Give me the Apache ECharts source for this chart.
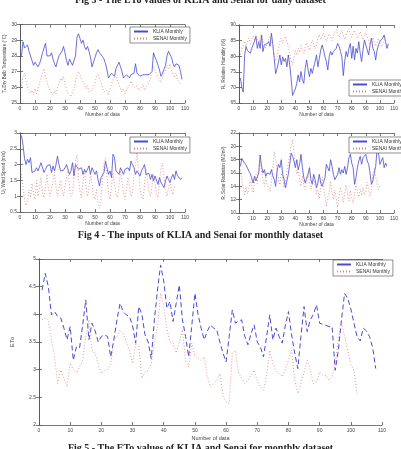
<!DOCTYPE html>
<html>
<head>
<meta charset="utf-8">
<script src="https://cdn.jsdelivr.net/npm/echarts@6/dist/echarts.min.js"></script>
<style>
  html, body { margin: 0; padding: 0; background: #fff; }
  #chart { width: 401px; height: 449px; }
</style>
</head>
<body>
<div id="chart"></div>
<script>
// monthly values, index 0 = data point 1
const tempKlia = [28.0, 28.9, 28.5, 28.6, 28.7, 28.3, 28.0, 27.7, 27.4, 27.6, 27.5, 27.3, 27.5, 27.8, 28.2, 28.5, 28.8, 28.0, 27.9, 28.0,
  28.2, 27.8, 27.5, 27.3, 27.7, 28.0, 28.1, 28.3, 28.6, 28.2, 27.7, 27.4, 27.8, 27.6, 27.4, 27.7, 28.0, 29.2, 29.4, 29.1,
  28.8, 29.0, 28.6, 28.4, 28.6, 28.3, 27.9, 27.3, 27.6, 27.9, 28.2, 28.4, 28.2, 28.1, 27.95, 27.8, 27.5, 27.1, 26.6, 26.5,
  26.9, 26.8, 26.7, 27.2, 27.4, 27.6, 27.3, 27.0, 26.6, 26.7, 26.8, 26.7, 26.6, 26.8, 26.8, 26.9, 27.5, 26.9, 26.8, 26.7,
  26.8, 26.8, 26.9, 26.8, 26.7, 26.8, 26.8, 27.0, 28.2, 27.9, 27.7, 27.4, 27.1, 26.7, 26.9, 27.0, 27.4, 28.0, 28.3, 28.4,
  27.9, 27.5, 27.3, 27.5, 27.6, 27.4, 27.0, 26.5];
const tempSenai = [26.1, 26.7, 26.9, 26.4, 26.0, 25.8, 25.6, 25.8, 25.5, 25.9, 25.6, 25.9, 26.3, 26.6, 26.9, 27.2, 26.7, 26.4, 26.0, 25.8,
  25.7, 25.5, 25.8, 25.6, 26.0, 26.2, 26.6, 26.4, 26.7, 26.2, 25.9, 25.6, 25.5, 25.4, 25.7, 25.9, 26.4, 26.8, 27.0, 26.8,
  26.5, 26.6, 26.2, 25.9, 26.1, 25.7, 25.6, 25.8, 26.0, 26.3, 26.7, 26.9, 26.5, 26.3, 26.0, 25.7, 25.6, 25.8, 25.5, 25.9,
  26.2, 26.5, 26.6, 26.8, 26.4, 26.2, 25.9, 25.7, 25.9, 25.6, 25.8, 26.0, 26.2, 26.4, 26.3, 26.0, 25.9, 26.1, 25.8, 25.9,
  26.0, 26.2, 25.8, 26.0, 25.9, 26.3, 26.6, 27.0, 27.3, 27.1, 26.8, 26.9, 26.5, 26.3, 26.6, 26.9, 27.1, 27.4, 27.2, 27.5,
  27.1, 26.8, 26.6, 26.9, 26.5, 26.4, 26.2];

const rhKlia = [73.0, 70.0, 68.5, 80.4, 83.1, 81.8, 81.2, 80.9, 82.5, 83.6, 84.8, 86.3, 82.5, 84.7, 82.5, 86.8, 81.5, 83.7, 83.2, 84.0,
  84.7, 83.2, 87.4, 83.7, 79.3, 74.4, 75.9, 78.0, 80.4, 77.2, 79.8, 78.3, 79.3, 76.6, 80.4, 77.2, 72.9, 67.4, 66.8, 69.5,
  71.3, 74.0, 71.8, 75.1, 72.4, 71.3, 76.1, 78.8, 75.6, 73.4, 76.1, 74.5, 76.5, 78.3, 80.4, 76.6, 79.3, 82.0, 83.6, 82.0,
  79.8, 78.3, 75.6, 79.8, 81.5, 80.4, 81.5, 82.0, 82.5, 84.1, 83.2, 81.5, 79.8, 73.8, 78.3, 81.5, 79.8, 82.5, 84.1, 79.3,
  83.2, 78.8, 82.5, 81.0, 84.7, 80.9, 78.3, 82.0, 85.2, 84.7, 82.0, 80.4, 83.7, 85.8, 82.5, 81.5, 78.8, 82.0, 83.6, 84.7,
  85.2, 85.8, 86.8, 84.7, 82.5, 84.0];
const rhSenai = [80.5, 82.0, 83.5, 84.8, 83.2, 84.5, 85.8, 84.0, 85.5, 86.5, 85.0, 86.8, 85.6, 84.2, 85.9, 87.0, 85.1, 84.0, 82.6, 83.8,
  85.4, 86.2, 84.9, 83.1, 80.2, 78.5, 79.8, 82.4, 84.6, 85.8, 84.2, 85.3, 86.4, 84.8, 83.0, 80.6, 78.4, 77.2, 79.5, 81.8,
  80.4, 82.6, 81.2, 83.5, 82.1, 80.8, 82.9, 84.3, 83.0, 81.9, 83.6, 85.1, 84.0, 82.4, 83.8, 85.6, 86.9, 85.3, 86.5, 87.4,
  86.0, 84.7, 85.9, 87.2, 86.3, 85.0, 86.6, 87.8, 88.5, 87.1, 86.0, 87.4, 88.2, 86.9, 85.4, 86.7, 88.0, 88.8, 87.3, 86.1,
  87.5, 88.3, 87.0, 85.8, 86.9, 87.9, 86.4, 85.2, 86.8, 87.6, 86.2, 84.8, 83.5, 84.9, 86.0, 84.6, 83.2, 84.4, 85.7, 84.3,
  83.0, 84.1, 85.3, 84.0, 83.4];

const windKlia = [2.92, 2.62, 2.2, 2.0, 2.17, 2.06, 2.22, 1.75, 1.78, 1.8, 1.9, 1.8, 1.75, 2.06, 2.11, 1.75, 1.85, 1.96, 1.9, 2.0,
  1.75, 1.96, 1.8, 2.0, 2.27, 2.0, 1.8, 1.75, 1.82, 1.9, 2.0, 2.06, 1.69, 1.8, 2.06, 1.64, 2.0, 1.96, 1.85, 1.8,
  1.9, 1.69, 1.85, 1.75, 1.85, 1.96, 1.69, 1.9, 1.8, 1.69, 1.8, 1.53, 1.32, 1.59, 1.65, 1.75, 2.11, 1.9, 1.69, 1.8,
  1.59, 2.33, 2.22, 1.8, 1.75, 1.69, 1.9, 1.85, 1.69, 1.85, 1.8, 1.9, 1.8, 2.11, 2.0, 1.9, 1.69, 1.8, 1.85, 1.64,
  1.8, 1.9, 2.0, 1.69, 1.75, 1.72, 1.53, 1.69, 1.48, 1.64, 1.59, 1.37, 1.59, 1.43, 1.35, 1.27, 1.48, 1.64, 1.53, 1.43,
  1.59, 1.69, 1.53, 1.8, 1.65, 1.59, 1.53, 1.59];
const windSenai = [1.7, 1.3, 0.9, 0.7, 0.85, 1.2, 0.95, 1.4, 1.1, 0.9, 1.5, 1.0, 1.25, 1.6, 1.1, 0.95, 1.35, 1.7, 1.2, 1.0,
  1.0, 1.45, 1.75, 1.3, 1.0, 1.05, 1.5, 1.2, 1.0, 0.95, 1.6, 1.85, 1.3, 1.0, 1.1, 1.55, 2.1, 2.3, 1.6, 1.15,
  0.95, 1.45, 1.8, 1.3, 1.0, 1.25, 1.7, 1.4, 1.0, 0.9, 1.2, 0.75, 0.62, 0.95, 1.5, 2.05, 2.2, 1.6, 1.1, 0.9,
  1.3, 1.75, 1.4, 1.05, 0.95, 1.35, 1.8, 1.45, 1.1, 0.9, 1.2, 1.6, 1.3, 1.0, 1.15, 1.7, 2.0, 2.4, 1.8, 1.3,
  1.0, 0.9, 1.35, 1.85, 1.5, 1.15, 1.0, 1.3, 1.7, 1.4, 1.05, 0.95, 1.45, 1.9, 2.05, 1.6, 1.2, 1.0, 1.25, 1.5,
  1.2, 1.05, 1.3];

const rsKlia = [17.0, 18.2, 17.8, 17.5, 17.2, 17.0, 16.3, 15.9, 15.3, 14.5, 15.5, 14.8, 15.4, 16.0, 18.7, 17.0, 16.0, 16.5, 15.5, 16.0,
  16.3, 15.8, 16.5, 15.6, 15.0, 14.0, 16.3, 17.3, 16.8, 18.0, 15.8, 15.0, 13.8, 14.8, 15.8, 17.3, 19.0, 18.5, 17.8, 16.8,
  18.0, 16.5, 17.3, 18.8, 16.8, 15.3, 14.5, 15.2, 15.8, 16.8, 15.0, 14.3, 15.8, 15.0, 13.8, 14.5, 15.8, 14.5, 14.0, 13.8,
  15.3, 17.3, 17.5, 16.3, 18.0, 17.0, 15.8, 15.0, 15.4, 15.8, 16.8, 15.8, 16.5, 16.0, 17.0, 15.8, 16.8, 18.3, 18.8, 17.5,
  16.8, 14.3, 15.3, 16.8, 17.8, 18.5, 17.3, 18.3, 18.6, 18.8, 17.8, 17.3, 16.0, 14.3, 14.8, 16.0, 17.0, 19.6, 19.0, 17.3,
  17.8, 18.3, 16.8, 17.5, 17.0];
const rsSenai = [16.5, 15.2, 13.8, 12.6, 14.0, 12.9, 13.5, 15.0, 14.2, 13.0, 14.6, 15.8, 14.4, 16.8, 18.0, 16.2, 15.0, 14.0, 15.5, 14.2,
  14.0, 13.2, 14.8, 16.6, 19.2, 18.0, 16.5, 15.0, 14.2, 16.0, 15.2, 13.8, 14.6, 16.2, 17.5, 18.6, 20.2, 21.0, 19.0, 17.2,
  15.8, 16.5, 15.0, 14.0, 15.6, 14.2, 13.5, 14.8, 16.0, 14.5, 13.6, 14.4, 15.2, 14.0, 12.8, 13.5, 12.2, 13.8, 15.4, 14.1,
  12.6, 11.0, 12.4, 13.2, 14.8, 13.0, 12.0, 13.4, 12.2, 10.8, 12.5, 13.9, 12.8, 11.6, 13.0, 14.2, 12.9, 11.8, 13.4, 12.2,
  11.4, 12.8, 14.4, 13.0, 12.4, 13.6, 12.6, 13.8, 12.7, 13.2, 14.6, 13.4, 12.5, 13.6, 15.8, 16.8, 15.3, 14.4, 13.5, 14.0];

const etoKlia = [4.44, 4.74, 4.5, 3.99, 4.05, 3.96, 3.93, 3.75, 3.54, 3.78, 3.17, 3.41, 3.39, 3.8, 4.26, 3.54, 3.84, 3.7, 3.5, 3.6,
  3.63, 3.6, 3.23, 3.54, 3.9, 4.2, 4.05, 3.99, 3.96, 3.8, 3.48, 4.14, 4.0, 3.63, 3.5, 3.2, 3.9, 4.44, 4.89, 4.6,
  4.11, 4.23, 3.87, 4.2, 4.53, 3.9, 3.6, 3.23, 3.8, 4.38, 4.0, 3.75, 3.54, 3.7, 3.81, 3.75, 3.72, 3.5, 3.3, 3.14,
  3.6, 4.08, 3.84, 3.88, 3.9, 3.6, 3.45, 3.65, 3.81, 3.5, 3.41, 3.23, 3.6, 3.99, 3.54, 3.75, 3.6, 3.48, 3.8, 4.05,
  3.63, 3.3, 3.02, 3.6, 4.14, 3.69, 3.9, 4.0, 4.17, 3.84, 3.82, 3.8, 3.78, 3.78, 2.99, 3.35, 3.9, 4.38, 4.29, 4.1,
  3.84, 3.6, 3.52, 3.75, 3.7, 3.6, 3.4, 3.02];
const etoSenai = [3.9, 3.95, 3.87, 3.54, 3.23, 2.75, 2.99, 2.85, 2.69, 3.12, 3.0, 2.94, 3.05, 3.17, 3.6, 3.9, 3.35, 3.3, 3.1, 2.93,
  2.99, 3.0, 3.08, 3.54, 3.6, 3.72, 3.66, 3.5, 3.35, 3.11, 3.48, 3.43, 2.84, 2.95, 2.99, 3.11, 3.5, 3.78, 4.38, 4.14,
  3.75, 3.5, 3.48, 3.3, 3.5, 3.72, 3.17, 3.05, 3.48, 3.25, 3.2, 3.17, 3.23, 2.87, 2.69, 2.75, 2.8, 2.93, 2.54, 2.42,
  2.39, 3.3, 3.35, 2.93, 2.85, 2.75, 2.81, 2.9, 2.99, 2.8, 2.69, 2.63, 2.9, 3.35, 3.11, 2.99, 2.93, 2.87, 3.0, 3.17,
  3.35, 2.81, 2.57, 2.75, 2.95, 3.17, 2.99, 2.75, 2.78, 2.96, 2.9, 2.9, 2.81, 2.87, 3.11, 3.54, 3.87, 3.6, 3.35, 3.1,
  2.99, 2.57];

const legendNames = ['KLIA Monthly', 'SENAI Monthly'];
const xName = 'Number of data';

const blue = '#4a4ad2';
const red = '#e07c7c';
const axisColor = '#555';
const tickFont = { fontSize: 5, color: '#444', fontFamily: 'Liberation Sans' };

const pairs = vals => vals.map((v, i) => [i + 1, v]);

// each panel: grid box + y range + axis name
const panels = [
  { left: 20, top: 24.5, width: 165, height: 78.5, ymin: 25, ymax: 30, step: 1, yName: 'T\u2090 Dry Bulb Temperature (\u00b0C)', a: tempKlia, b: tempSenai },
  { left: 239, top: 25, width: 166, height: 78, ymin: 65, ymax: 90, step: 5, yName: 'R\u2095 Relative Humidity (%)', a: rhKlia, b: rhSenai },
  { left: 20, top: 133, width: 165, height: 79, ymin: 0.5, ymax: 3, step: 0.5, yName: 'U\u2082 Wind Speed (m/s)', a: windKlia, b: windSenai },
  { left: 239, top: 133, width: 166, height: 80, ymin: 10, ymax: 22, step: 2, yName: 'R\u209b Solar Radiation (MJ/m\u00b2)', a: rsKlia, b: rsSenai },
  { left: 39, top: 259, width: 343, height: 166, ymin: 2, ymax: 5, step: 0.5, yName: 'ETo', a: etoKlia, b: etoSenai, big: true }
];

const grid = [], xAxis = [], yAxis = [], series = [];

panels.forEach((p, i) => {
  grid.push({ left: p.left, top: p.top, width: p.width, height: p.height, show: false });
  const line = { show: true, lineStyle: { color: axisColor, width: 0.8 } };
  const tick = { show: true, inside: true, length: 3, lineStyle: { color: axisColor, width: 0.8 } };
  xAxis.push({
    type: 'value', gridIndex: i, min: 0, max: 110, interval: 10,
    name: xName, nameLocation: 'middle', nameGap: p.big ? 10 : 9,
    nameTextStyle: { fontSize: p.big ? 5.5 : 5, color: '#444', fontFamily: 'Liberation Sans' },
    axisLine: line, axisTick: tick, splitLine: { show: false },
    axisLabel: Object.assign({ margin: 3 }, tickFont)
  });
  xAxis.push({
    type: 'value', gridIndex: i, position: 'top', min: 0, max: 110, interval: 10,
    axisLine: line, axisTick: tick, splitLine: { show: false }, axisLabel: { show: false }
  });
  yAxis.push({
    type: 'value', gridIndex: i, min: p.ymin, max: p.ymax, interval: p.step,
    name: p.yName, nameLocation: 'middle', nameGap: p.big ? 24 : 10, nameRotate: 90,
    nameTextStyle: { fontSize: p.big ? 6 : 4.5, color: '#444', fontFamily: 'Liberation Sans' },
    axisLine: line, axisTick: tick, splitLine: { show: false },
    axisLabel: Object.assign({ margin: 3 }, tickFont)
  });
  yAxis.push({
    type: 'value', gridIndex: i, position: 'right', min: p.ymin, max: p.ymax, interval: p.step,
    axisLine: line, axisTick: tick, splitLine: { show: false }, axisLabel: { show: false }
  });
  series.push({
    name: legendNames[0], type: 'line', xAxisIndex: i * 2, yAxisIndex: i * 2,
    data: pairs(p.a), symbol: 'none', color: blue,
    lineStyle: { color: blue, width: p.big ? 1 : 0.8, type: p.big ? [5, 3] : 'solid' }
  });
  series.push({
    name: legendNames[1], type: 'line', xAxisIndex: i * 2, yAxisIndex: i * 2,
    data: pairs(p.b), symbol: 'none', color: red,
    lineStyle: { color: red, width: 0.8, type: [1, 2] }
  });
});

const legendBox = (left, top) => ({
  data: legendNames, orient: 'vertical', left: left, top: top,
  itemWidth: 14, itemHeight: 5, itemGap: 2, padding: [2, 3],
  itemStyle: { opacity: 0 },
  borderColor: '#444', borderWidth: 0.6, backgroundColor: '#fff',
  textStyle: { fontSize: 5, color: '#333', fontFamily: 'Liberation Sans' },
  selectedMode: false
});

const caption = (text, y) => ({
  type: 'text', left: 'center', top: y,
  style: { text: text, font: 'bold 10px "Liberation Serif"', fill: '#222' }
});

const chart = echarts.init(document.getElementById('chart'));
chart.setOption({
  animation: false,
  backgroundColor: '#fff',
  grid, xAxis, yAxis, series,
  legend: [
    legendBox(130, 27),
    legendBox(349, 80),
    legendBox(130, 137),
    legendBox(349, 137),
    legendBox(333, 260)
  ],
  graphic: [
    caption('Fig 3 - The ETo values of KLIA and Senai for daily dataset', -5),
    caption('Fig 4 - The inputs of KLIA and Senai for monthly dataset', 230),
    caption('Fig 5 - The ETo values of KLIA and Senai for monthly dataset', 443)
  ]
});
</script>
</body>
</html>
